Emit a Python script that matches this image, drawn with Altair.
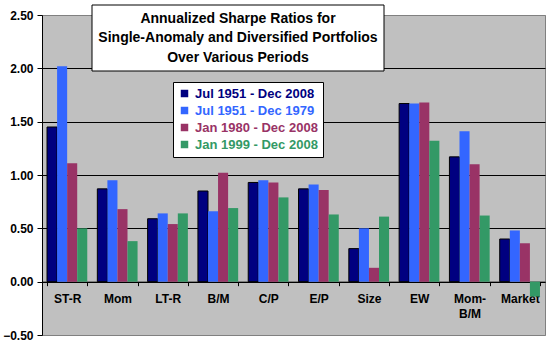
import altair as alt
import pandas as pd

categories = ["ST-R", "Mom", "LT-R", "B/M", "C/P", "E/P", "Size", "EW", "Mom-B/M", "Market"]
periods = ["Jul 1951 - Dec 2008", "Jul 1951 - Dec 1979", "Jan 1980 - Dec 2008", "Jan 1999 - Dec 2008"]
p1 = [1.45, 0.87, 0.59, 0.85, 0.93, 0.87, 0.31, 1.67, 1.17, 0.40]
p2 = [2.02, 0.95, 0.64, 0.66, 0.95, 0.91, 0.50, 1.67, 1.41, 0.48]
p3 = [1.11, 0.68, 0.54, 1.02, 0.93, 0.86, 0.13, 1.68, 1.10, 0.36]
p4 = [0.50, 0.38, 0.64, 0.69, 0.79, 0.63, 0.61, 1.32, 0.62, -0.14]
colors = ["#000080", "#3366FF", "#993366", "#339966"]
title_lines = ["Annualized Sharpe Ratios for",
               "Single-Anomaly and Diversified Portfolios",
               "Over Various Periods"]
y_ticks = [-0.5, 0.0, 0.5, 1.0, 1.5, 2.0, 2.5]

rows = []
for per, vals in zip(periods, [p1, p2, p3, p4]):
    for c, v in zip(categories, vals):
        rows.append({"Portfolio": c, "Period": per, "Sharpe": v})
df = pd.DataFrame(rows)

FONT = "Liberation Sans"
W, H = 503, 320
zero_offset = -(H * 0.5 / 3.0)

pal_js = "[" + ",".join("'%s'" % c for c in colors) + "]"
per_js = "[" + ",".join("'%s'" % p for p in periods) + "]"
label_color_expr = pal_js + "[indexof(" + per_js + ", datum.value)]"

bars = alt.Chart(df).mark_bar(strokeWidth=1).encode(
    x=alt.X("Portfolio:N", sort=categories,
            scale=alt.Scale(paddingInner=0.2, paddingOuter=0.1),
            axis=alt.Axis(title=None, labelAngle=0, labelFont=FONT, labelFontSize=12,
                          labelFontWeight="bold", labelColor="black",
                          domainColor="black", tickColor="black", tickSize=4,
                          tickBand="extent", offset=zero_offset, labelPadding=8,
                          labelLineHeight=15,
                          labelExpr="datum.value == 'Mom-B/M' ? ['Mom-', 'B/M'] : datum.label")),
    xOffset=alt.XOffset("Period:N", sort=periods),
    y=alt.Y("Sharpe:Q", scale=alt.Scale(domain=[-0.5, 2.5], nice=False, zero=False),
            axis=alt.Axis(title=None, values=y_ticks, format=".2f", labelFont=FONT,
                          labelFontSize=12, labelFontWeight="bold", labelColor="black",
                          domainColor="black", tickColor="black", tickSize=5,
                          labelPadding=4, grid=True,
                          gridColor={"condition": {"test": "datum.value >= 2.5 || datum.value <= -0.5",
                                                   "value": "#808080"},
                                     "value": "black"},
                          gridOpacity=1)),
    color=alt.Color("Period:N", sort=periods,
                    scale=alt.Scale(domain=periods, range=colors),
                    legend=alt.Legend(title=None, orient="none", legendX=131, legendY=67,
                                      fillColor="white", strokeColor="black", padding=5,
                                      symbolType="square", symbolSize=56, symbolStrokeWidth=0,
                                      labelFont=FONT, labelFontSize=13, labelFontWeight="bold",
                                      labelColor=alt.ExprRef(expr=label_color_expr),
                                      rowPadding=3, labelOffset=4, cornerRadius=0)),
    stroke=alt.condition("datum.Period == '%s'" % periods[0], alt.value("black"),
                         alt.value("transparent")),
)

one = pd.DataFrame({"k": [0]})
title_box = alt.Chart(one).mark_rect(fill="white", stroke="black", strokeWidth=1).encode(
    x=alt.value(50), x2=alt.value(342), y=alt.value(-10), y2=alt.value(56)
)
title_text = alt.Chart(one).mark_text(font=FONT, fontSize=14, fontWeight="bold", color="black",
                                      align="center", baseline="middle", lineHeight=19.5).encode(
    x=alt.value(196), y=alt.value(3.5), text=alt.value(title_lines)
)

chart = alt.layer(bars, title_box, title_text).properties(
    width=W, height=H,
    autosize=alt.AutoSizeParams(type="none"),
    padding={"left": 42, "top": 15, "right": 5, "bottom": 15},
    background="white",
).configure_view(fill="#C0C0C0", stroke="#808080", strokeWidth=1)

chart.save("out.html", embed_options={"renderer": "svg", "actions": False})
